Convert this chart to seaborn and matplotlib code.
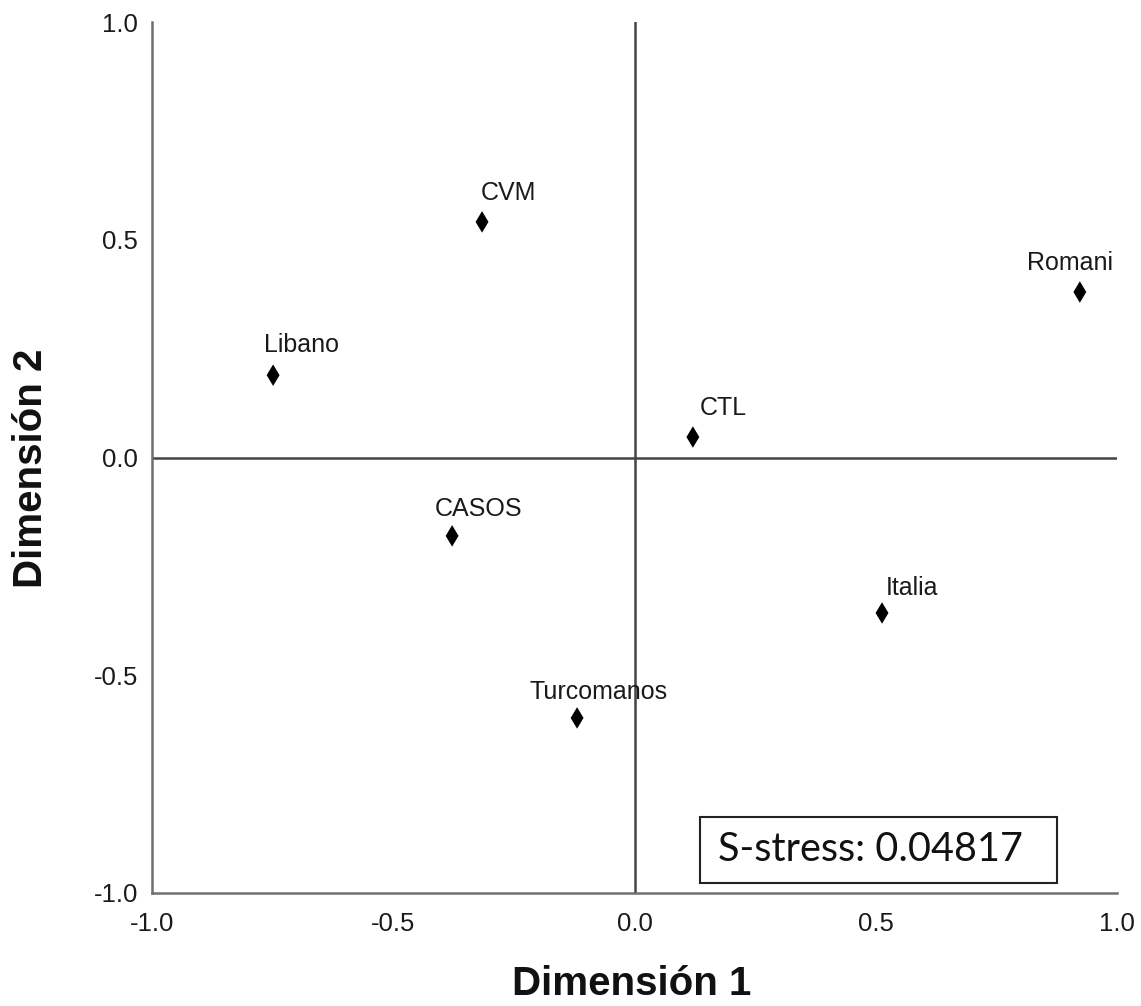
import matplotlib
matplotlib.use("Agg")
import matplotlib.pyplot as plt
import seaborn as sns
import pandas as pd
from matplotlib.patches import Rectangle

# ---- data ----
labels = ["CVM", "Romani", "Libano", "CTL", "CASOS", "Italia", "Turcomanos"]
dim1 = [-0.316, 0.923, -0.749, 0.121, -0.378, 0.513, -0.119]
dim2 = [0.541, 0.380, 0.189, 0.047, -0.180, -0.357, -0.598]
ticks = [-1.0, -0.5, 0.0, 0.5, 1.0]
tick_labels = ["-1.0", "-0.5", "0.0", "0.5", "1.0"]
stress_text = "S-stress: 0.04817"

# label offsets (pixels) relative to each point
label_offsets = {
    "CVM": (-1, 29), "Romani": (-53, 29), "Libano": (-9, 30), "CTL": (7, 29),
    "CASOS": (-17, 27), "Italia": (4, 25), "Turcomanos": (-48, 26),
}

df = pd.DataFrame({"label": labels, "Dimensión 1": dim1, "Dimensión 2": dim2})

sns.set_style("white")
plt.rcParams["font.family"] = ["Liberation Sans", "DejaVu Sans"]

fig = plt.figure(figsize=(11.41, 10.06), dpi=100)
ax = fig.add_axes([152 / 1141, 1 - 893 / 1006, 965 / 1141, 871 / 1006])

ax.axhline(0, color="#444444", lw=1.8, zorder=1)
ax.axvline(0, color="#444444", lw=1.8, zorder=1)

sns.scatterplot(data=df, x="Dimensión 1", y="Dimensión 2", marker="d", s=120,
                color="black", edgecolor="none", ax=ax, zorder=3)

for lab, x, y in zip(labels, dim1, dim2):
    dx, dy = label_offsets[lab]
    ax.annotate(lab, (x, y), xytext=(dx, dy), textcoords="offset pixels",
                ha="left", va="center", fontsize=18, color="#1a1a1a")

ax.set_xlim(-1, 1)
ax.set_ylim(-1, 1)
ax.set_xticks(ticks)
ax.set_xticklabels(tick_labels)
ax.set_yticks(ticks)
ax.set_yticklabels(tick_labels)
ax.tick_params(axis="both", length=0, labelsize=18.5, colors="#1a1a1a")
ax.tick_params(axis="x", pad=14)
ax.tick_params(axis="y", pad=10)

for side in ["top", "right"]:
    ax.spines[side].set_visible(False)
for side in ["left", "bottom"]:
    ax.spines[side].set_color("#707070")
    ax.spines[side].set_linewidth(1.8)

ax.set_xlabel("Dimensión 1", fontsize=29, fontweight="bold", color="#111111")
ax.set_ylabel("Dimensión 2", fontsize=29, fontweight="bold", color="#111111")
ax.xaxis.set_label_coords(0.497, -0.083)
ax.yaxis.set_label_coords(-0.106, 0.488)

rect = Rectangle((0.5679, 0.0115), 0.370, 0.0758, transform=ax.transAxes,
                 facecolor="white", edgecolor="#222222", lw=1.5, zorder=4)
ax.add_patch(rect)
ax.text(0.5679 + 18 / 965, 0.0115 + 0.0758 / 2, stress_text, transform=ax.transAxes,
        ha="left", va="center", fontsize=28.5, family=["Lato", "DejaVu Sans"],
        color="#111111", zorder=5)

fig.savefig("out.png", dpi=100)
